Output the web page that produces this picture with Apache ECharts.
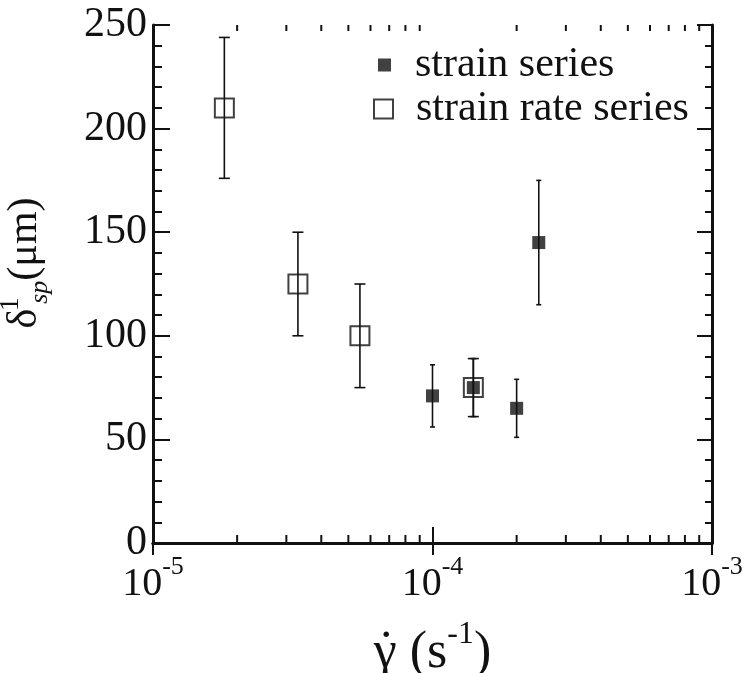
<!DOCTYPE html>
<html><head><meta charset="utf-8">
<script src="https://cdn.jsdelivr.net/npm/echarts@6/dist/echarts.min.js"></script>
<style>html,body{margin:0;padding:0;background:#fff}#c{width:746px;height:673px}</style>
</head><body><div id="c"></div>
<script>
// strain series (filled squares)
const strainX = [1.0e-4, 1.4e-4, 2.0e-4, 2.4e-4];
const strainY = [71, 75, 65, 145];
const strainErr = [15, 14, 14, 30];
// strain rate series (open squares)
const rateX = [1.8e-5, 3.3e-5, 5.5e-5, 1.4e-4];
const rateY = [210, 125, 100, 75];
const rateErr = [34, 25, 25, 14];
// axis ticks
const xMinorTicks = [2e-5,3e-5,4e-5,5e-5,6e-5,7e-5,8e-5,9e-5,2e-4,3e-4,4e-4,5e-4,6e-4,7e-4,8e-4,9e-4];
const xTickExponents = {'-5':'-5','-4':'-4','-3':'-3'};
const yTickLabels = ['0','50','100','150','200','250'];

const INK = '#111';
const FONT = 'Liberation Serif';

const strainData = strainX.map((x,i)=>[x, strainY[i]]);
const rateData = rateX.map((x,i)=>[x, rateY[i]]);
const strainErrData = strainX.map((x,i)=>[x, strainY[i], strainErr[i]]);
const rateErrData = rateX.map((x,i)=>[x, rateY[i], rateErr[i]]);

function errRender(cap){
  return function(params, api){
    const x = api.value(0), y = api.value(1), e = api.value(2);
    const hi = api.coord([x, y + e]);
    const lo = api.coord([x, y - e]);
    const st = {stroke: INK, lineWidth: 1.6};
    return {type:'group', children:[
      {type:'line', shape:{x1:hi[0], y1:hi[1], x2:lo[0], y2:lo[1]}, style:st},
      {type:'line', shape:{x1:hi[0]-cap, y1:hi[1], x2:hi[0]+cap, y2:hi[1]}, style:st},
      {type:'line', shape:{x1:lo[0]-cap, y1:lo[1], x2:lo[0]+cap, y2:lo[1]}, style:st}
    ]};
  };
}

const chart = echarts.init(document.getElementById('c'));
chart.setOption({
  backgroundColor:'#fff',
  animation:false,
  textStyle:{fontFamily:FONT, color:INK},
  grid:{left:153, right:34, top:25, bottom:130, outerBoundsMode:'none', containLabel:false},
  legend:[
    {data:['strain series'], left:373, top:39, itemWidth:13, itemHeight:13, orient:'vertical',
     textStyle:{fontFamily:FONT, fontSize:42, color:INK, padding:[0,0,0,19]}},
    {data:['strain rate series'], left:368, top:83, itemWidth:19, itemHeight:19, orient:'vertical',
     textStyle:{fontFamily:FONT, fontSize:42, color:INK, padding:[0,0,0,18]}}
  ],
  xAxis:[{
    type:'log', logBase:10, min:1e-5, max:1e-3, position:'bottom',
    axisLine:{lineStyle:{color:INK, width:3}},
    axisTick:{inside:true, length:16, lineStyle:{color:INK, width:2}},
    splitLine:{show:false},
    axisLabel:{margin:11, formatter:function(v){
      const ex = String(Math.round(Math.log10(v)));
      return '{b|10}{s|' + (xTickExponents[ex]||ex) + '}';
    }, rich:{
      b:{fontFamily:FONT, fontSize:40, color:INK, lineHeight:60},
      s:{fontFamily:FONT, fontSize:26, color:INK, lineHeight:20, verticalAlign:'top'}
    }},
    name:'{m|γ}{dot|˙}{n| (s}{e|-1}{m|)}', nameLocation:'middle', nameGap:76,
    nameTextStyle:{rich:{
      dot:{fontFamily:FONT, fontSize:52, color:INK, lineHeight:68, width:1, padding:[0,0,0,-11]},
      m:{fontFamily:FONT, fontSize:52, color:INK, lineHeight:68},
      n:{fontFamily:FONT, fontSize:52, color:INK, lineHeight:68, padding:[0,0,0,10]},
      e:{fontFamily:FONT, fontSize:32, color:INK, lineHeight:26, verticalAlign:'top'}
    }}
  },{
    type:'log', logBase:10, min:1e-5, max:1e-3, position:'top',
    axisLine:{lineStyle:{color:INK, width:3}},
    axisTick:{inside:true, length:12, lineStyle:{color:INK, width:2}},
    axisLabel:{show:false}, splitLine:{show:false}
  }],
  yAxis:[{
    type:'value', min:0, max:250, interval:50, position:'left',
    axisLine:{show:true, lineStyle:{color:INK, width:3}},
    axisTick:{show:true, inside:true, length:17, lineStyle:{color:INK, width:2}},
    minorTick:{show:true, splitNumber:5, length:9, lineStyle:{color:INK, width:2}},
    splitLine:{show:false},
    axisLabel:{margin:6, fontFamily:FONT, fontSize:42, color:INK,
      formatter:function(v){ return yTickLabels[Math.round(v/50)]; }},
    name:'{m|δ}{sup|1}{sub|sp}{m|(μm)}', nameLocation:'middle', nameRotate:90, nameGap:100,
    nameTextStyle:{padding:[0,0,0,42], rich:{
      m:{fontFamily:FONT, fontSize:42, color:INK, lineHeight:56},
      sup:{fontFamily:FONT, fontSize:28, color:INK, lineHeight:22, verticalAlign:'top', width:1, padding:[0,0,0,4]},
      sub:{fontFamily:FONT, fontSize:26, fontStyle:'italic', color:INK, lineHeight:22, verticalAlign:'bottom'}
    }}
  },{
    type:'value', min:0, max:250, interval:50, position:'right',
    axisLine:{show:true, lineStyle:{color:INK, width:3}},
    axisTick:{show:true, inside:true, length:15, lineStyle:{color:INK, width:2}},
    minorTick:{show:true, splitNumber:5, length:7, lineStyle:{color:INK, width:2}},
    splitLine:{show:false}, axisLabel:{show:false}
  }],
  series:[
    {type:'custom', name:'xminor', coordinateSystem:'cartesian2d', xAxisIndex:0, yAxisIndex:0, silent:true,
     data:xMinorTicks.map(v=>[v]), clip:false,
     renderItem:function(params, api){
       const v = api.value(0);
       const b = api.coord([v, 0]);
       const t = api.coord([v, 250]);
       const st = {stroke:INK, lineWidth:2};
       return {type:'group', children:[
         {type:'line', shape:{x1:b[0], y1:b[1], x2:b[0], y2:b[1]-8}, style:st},
         {type:'line', shape:{x1:t[0], y1:t[1], x2:t[0], y2:t[1]+6}, style:st}
       ]};
     }},
    {type:'custom', name:'rateErr', coordinateSystem:'cartesian2d', data:rateErrData, renderItem:errRender(5.5), silent:true, z:3},
    {type:'custom', name:'strainErr', coordinateSystem:'cartesian2d', data:strainErrData, renderItem:errRender(2.5), silent:true, z:3},
    {type:'scatter', name:'strain rate series', data:rateData, symbol:'rect', symbolSize:19,
     itemStyle:{color:'rgba(0,0,0,0)', borderColor:INK, borderWidth:2}, z:4},
    {type:'scatter', name:'strain series', data:strainData, symbol:'rect', symbolSize:13,
     itemStyle:{color:INK}, z:5}
  ]
});
</script>
</body></html>
